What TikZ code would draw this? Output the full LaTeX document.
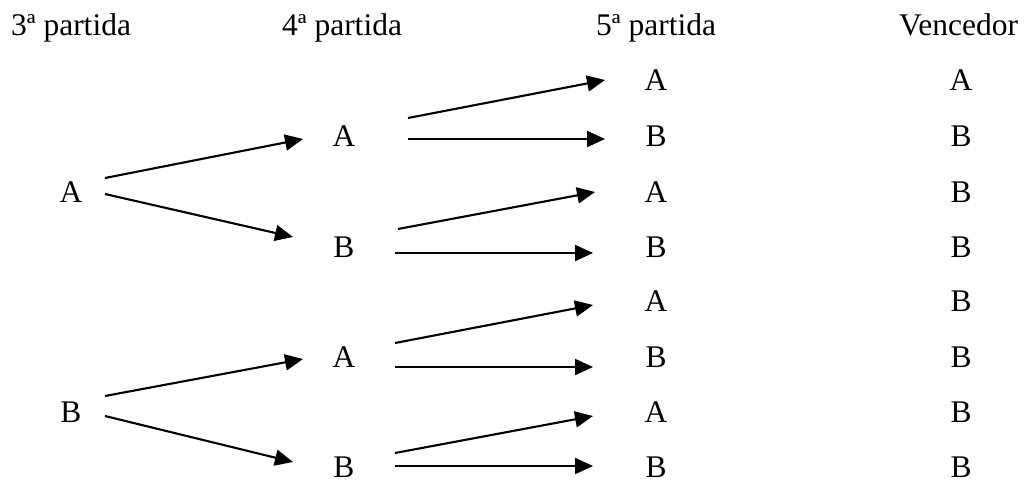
\documentclass[tikz,border=0pt]{standalone}
\usepackage{fontspec}
\setmainfont{Liberation Serif}
\usetikzlibrary{arrows.meta,calc}
\tikzset{
  lbl/.style={inner sep=0pt, anchor=base, font=\fontsize{31.5}{38}\selectfont},
  hdr/.style={inner sep=0pt, anchor=base west, font=\fontsize{31.5}{38}\selectfont},
  arr/.style={line width=2.1pt, -{Triangle[length=18pt,width=16pt]}}
}
\begin{document}
\begin{tikzpicture}[x=1pt,y=-1pt]
\useasboundingbox (0,0) rectangle (1030,485);
% headers
\node[hdr] (h3) at (11,35) {3ª partida};
\node[hdr] (h4) at (282,35) {4ª partida};
\node[hdr] (h5) at (596,35) {5ª partida};
\node[hdr] (hv) at (899,35) {Vencedor};
% 3a partida
\node[lbl] (a1) at (71,202) {A};
\node[lbl] (b1) at (71,422) {B};
% 4a partida
\node[lbl] (a2) at (344,146) {A};
\node[lbl] (b2) at (344,257) {B};
\node[lbl] (c2) at (344,367) {A};
\node[lbl] (d2) at (344,477) {B};
% 5a partida
\node[lbl] (p1) at (656,90) {A};
\node[lbl] (p2) at (656,146) {B};
\node[lbl] (p3) at (656,202) {A};
\node[lbl] (p4) at (656,257) {B};
\node[lbl] (p5) at (656,311) {A};
\node[lbl] (p6) at (656,367) {B};
\node[lbl] (p7) at (656,422) {A};
\node[lbl] (p8) at (656,477) {B};
% vencedor
\node[lbl] (v1) at (961,90) {A};
\node[lbl] (v2) at (961,146) {B};
\node[lbl] (v3) at (961,202) {B};
\node[lbl] (v4) at (961,257) {B};
\node[lbl] (v5) at (961,311) {B};
\node[lbl] (v6) at (961,367) {B};
\node[lbl] (v7) at (961,422) {B};
\node[lbl] (v8) at (961,477) {B};
% arrows from 3a partida
\draw[arr] ($(a1.base)+(34,-24)$) -- ($(a2.base)+(-41,-7)$);
\draw[arr] ($(a1.base)+(34,-8)$) -- ($(b2.base)+(-51,-20)$);
\draw[arr] ($(b1.base)+(34,-26)$) -- ($(c2.base)+(-41,-8)$);
\draw[arr] ($(b1.base)+(34,-6)$) -- ($(d2.base)+(-51,-15)$);
% arrows from 4a partida
\draw[arr] ($(a2.base)+(64,-28)$) -- ($(p1.base)+(-51,-10)$);
\draw[arr] ($(a2.base)+(64,-7)$) -- ($(p2.base)+(-51,-7)$);
\draw[arr] ($(b2.base)+(54,-28)$) -- ($(p3.base)+(-61,-10)$);
\draw[arr] ($(b2.base)+(51,-4)$) -- ($(p4.base)+(-63,-4)$);
\draw[arr] ($(c2.base)+(51,-24)$) -- ($(p5.base)+(-63,-6)$);
\draw[arr] ($(c2.base)+(51,0)$) -- ($(p6.base)+(-63,0)$);
\draw[arr] ($(d2.base)+(51,-24)$) -- ($(p7.base)+(-63,-6)$);
\draw[arr] ($(d2.base)+(51,-11)$) -- ($(p8.base)+(-63,-11)$);
\end{tikzpicture}
\end{document}
